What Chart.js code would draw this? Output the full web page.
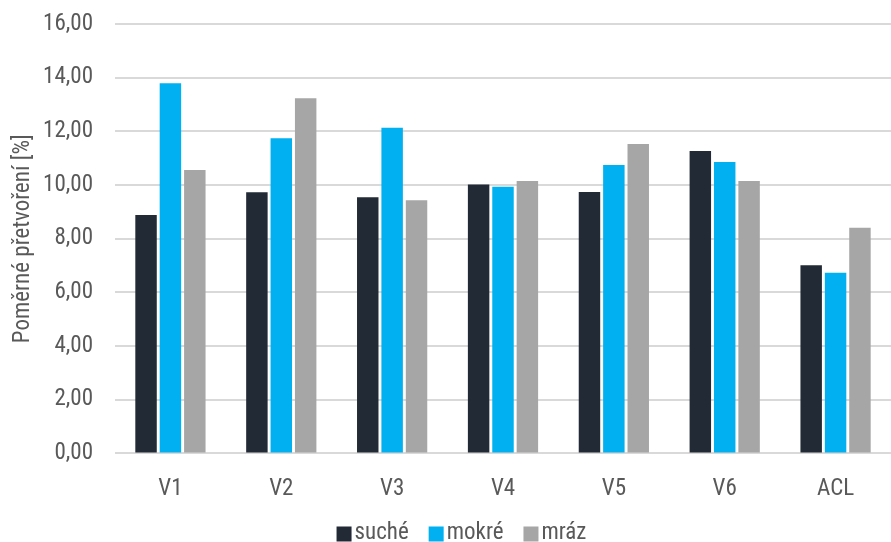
<!DOCTYPE html>
<html>
<head>
<meta charset="utf-8">
<script src="https://cdn.jsdelivr.net/npm/chart.js@4"></script>
<style>
html,body{margin:0;padding:0;background:#fff;}
#wrap{width:891px;height:542px;position:relative;}
</style>
</head>
<body>
<div id="wrap"><canvas id="c" width="891" height="542"></canvas></div>
<script>
const categories = ["V1","V2","V3","V4","V5","V6","ACL"];
const sucheValues = [8.88, 9.73, 9.54, 10.02, 9.74, 11.27, 7.01];
const mokreValues = [13.79, 11.74, 12.13, 9.94, 10.75, 10.86, 6.73];
const mrazValues  = [10.56, 13.23, 9.43, 10.15, 11.53, 10.15, 8.41];
const seriesNames = ["suché","mokré","mráz"];
const yTicks = [0,2,4,6,8,10,12,14,16];
const yTitle = "Poměrné přetvoření [%]";

const FONT = "'Liberation Sans Narrow','Arial Narrow','Roboto Condensed','Liberation Sans',sans-serif";
const TXT = "#595959";
const FS = 23;

// Custom bottom legend (box + small gap + text), built from the datasets
const legendPlugin = {
  id: 'customLegend',
  afterDraw(chart) {
    const ctx = chart.ctx;
    const ds = chart.data.datasets;
    const box = 15, gapText = 3, gapItem = 20;
    ctx.save();
    ctx.font = FS + "px " + FONT;
    const widths = ds.map(d => box + gapText + ctx.measureText(d.label).width);
    const total = widths.reduce((a, b) => a + b, 0) + gapItem * (ds.length - 1);
    let x = chart.width / 2 + 16 - total / 2;
    const yc = 533;
    ds.forEach((d, i) => {
      ctx.fillStyle = d.backgroundColor;
      ctx.fillRect(x, yc - box / 2 + 1, box, box);
      ctx.fillStyle = TXT;
      ctx.textBaseline = 'middle';
      ctx.textAlign = 'left';
      ctx.fillText(d.label, x + box + gapText, yc);
      x += widths[i] + gapItem;
    });
    ctx.restore();
  }
};

function zeroPad(s) { s.paddingTop = 0; s.paddingBottom = 0; s.paddingLeft = 0; s.paddingRight = 0; }

new Chart(document.getElementById('c'), {
  type: 'bar',
  data: {
    labels: categories,
    datasets: [
      {label: seriesNames[0], data: sucheValues, backgroundColor: '#222a35'},
      {label: seriesNames[1], data: mokreValues, backgroundColor: '#00b0f0'},
      {label: seriesNames[2], data: mrazValues,  backgroundColor: '#a6a6a6'}
    ]
  },
  plugins: [legendPlugin],
  options: {
    responsive: false,
    animation: false,
    devicePixelRatio: 1,
    layout: {autoPadding: false, padding: {left: 0, right: 0, top: 24, bottom: 25}},
    datasets: {bar: {categoryPercentage: 0.66, barPercentage: 0.88}},
    scales: {
      x: {
        afterFit: zeroPad,
        grid: {display: false},
        border: {display: false},
        ticks: {color: TXT, font: {family: FONT, size: FS}, padding: 14}
      },
      y: {
        min: 0, max: 16,
        afterBuildTicks: (s) => { s.ticks = yTicks.map(v => ({value: v})); },
        afterFit: (s) => { zeroPad(s); s.width = 115; },
        grid: {color: '#d9d9d9', lineWidth: 2, drawTicks: false},
        border: {display: false},
        ticks: {
          color: TXT, font: {family: FONT, size: FS}, padding: 22,
          callback: (v) => Number(v).toFixed(2).replace('.', ',')
        },
        title: {display: true, text: yTitle, color: TXT, font: {family: FONT, size: FS}, padding: {top: 9, bottom: 4}}
      }
    },
    plugins: {
      legend: {display: false},
      tooltip: {enabled: false}
    }
  }
});
</script>
</body>
</html>
